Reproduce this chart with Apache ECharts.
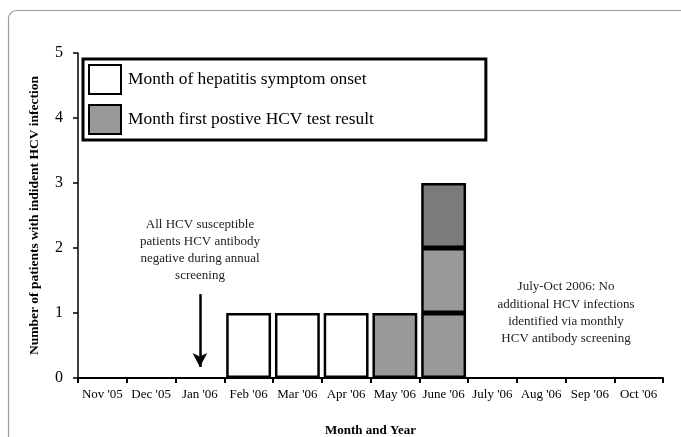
<!DOCTYPE html>
<html>
<head>
<meta charset="utf-8">
<script src="https://cdn.jsdelivr.net/npm/echarts@6/dist/echarts.min.js"></script>
<style>html,body{margin:0;padding:0;background:#fff}#c{width:681px;height:437px}</style>
</head>
<body>
<div id="c"></div>
<script>
const months = ["Nov '05","Dec '05","Jan '06","Feb '06","Mar '06","Apr '06","May '06","June '06","July '06","Aug '06","Sep '06","Oct '06"];
const onsetValues = [0,0,0,1,1,1,0,0,0,0,0,0];
const positiveValues = [0,0,0,0,0,0,1,1,0,0,0,0];
const positiveSecondValues = [0,0,0,0,0,0,0,1,0,0,0,0];
const positiveDarkValues = [0,0,0,0,0,0,0,1,0,0,0,0];
const yTicks = [0,1,2,3,4,5];
const legendNames = ["Month of hepatitis symptom onset","Month first postive HCV test result"];
const arrowFrom = 1.29, arrowTo = 0.17;

const FONT = "Liberation Serif";
const noZero = a => a.map(v => v === 0 ? '-' : v);
const chart = echarts.init(document.getElementById('c'));
const bs = {borderColor:'#000', borderWidth:2.5};
chart.setOption({
  animation:false,
  backgroundColor:'#fff',
  textStyle:{fontFamily:FONT, color:'#000'},
  grid:{left:78, right:18, top:53, bottom:59, containLabel:false, outerBoundsMode:'none'},
  legend:{
    data:legendNames, orient:'vertical', left:83, top:59,
    icon:'rect', itemWidth:32, itemHeight:29, itemGap:9,
    padding:[5,112,5,5],
    borderColor:'#000', borderWidth:3,
    textStyle:{fontFamily:FONT, fontSize:17.4, color:'#000', padding:[0,0,0,2]},
    selectedMode:false
  },
  xAxis:{
    type:'category', data:months,
    axisLine:{lineStyle:{color:'#000', width:2}},
    axisTick:{show:true, alignWithLabel:false, length:5, lineStyle:{color:'#000', width:2}},
    axisLabel:{fontFamily:FONT, fontSize:13, color:'#000', margin:10, interval:0},
    name:'Month and Year', nameLocation:'middle', nameGap:46,
    nameTextStyle:{fontFamily:FONT, fontSize:13, fontWeight:'bold', color:'#000'}
  },
  yAxis:{
    type:'value', min:yTicks[0], max:yTicks[yTicks.length-1], interval:1,
    axisLine:{show:true, lineStyle:{color:'#000', width:1.5}},
    axisTick:{show:true, length:5, lineStyle:{color:'#000', width:1.5}},
    splitLine:{show:false},
    axisLabel:{fontFamily:FONT, fontSize:16, color:'#000', margin:15},
    name:'Number of patients with indident HCV infection', nameLocation:'middle', nameGap:36,
    nameTextStyle:{fontFamily:FONT, fontSize:13.5, fontWeight:'bold', color:'#000'}
  },
  series:[
    {name:legendNames[0], type:'bar', stack:'s', data:noZero(onsetValues), barCategoryGap:'8%',
     itemStyle:Object.assign({color:'#ffffff'}, bs),
     markLine:{silent:true, symbol:['none','arrow'], symbolSize:[11,14],
       label:{show:false},
       lineStyle:{color:'#000', width:2.5, type:'solid'},
       data:[[{coord:["Jan '06", arrowFrom]},{coord:["Jan '06", arrowTo]}]]}},
    {name:legendNames[1], type:'bar', stack:'s', data:noZero(positiveValues),
     itemStyle:Object.assign({color:'#999999'}, bs)},
    {name:'positive2', type:'bar', stack:'s', data:noZero(positiveSecondValues),
     itemStyle:Object.assign({color:'#999999'}, bs)},
    {name:'dark', type:'bar', stack:'s', data:noZero(positiveDarkValues),
     itemStyle:Object.assign({color:'#7b7b7b'}, bs)}
  ],
  graphic:[
    {type:'rect', shape:{x:8.5, y:10.5, width:720, height:500, r:8}, style:{fill:'none', stroke:'#9a9a9a', lineWidth:1.2}, silent:true, z:-1},
    {type:'text', x:200, y:250, style:{text:'All HCV susceptible\npatients HCV antibody\nnegative during annual\nscreening', font:'13px "Liberation Serif"', fill:'#222', align:'center', verticalAlign:'middle', lineHeight:17.2}},
    {type:'text', x:566, y:313, style:{text:'July-Oct 2006: No\nadditional HCV infections\nidentified via monthly\nHCV antibody screening', font:'13px "Liberation Serif"', fill:'#222', align:'center', verticalAlign:'middle', lineHeight:17.3}}
  ]
});
</script>
</body>
</html>
